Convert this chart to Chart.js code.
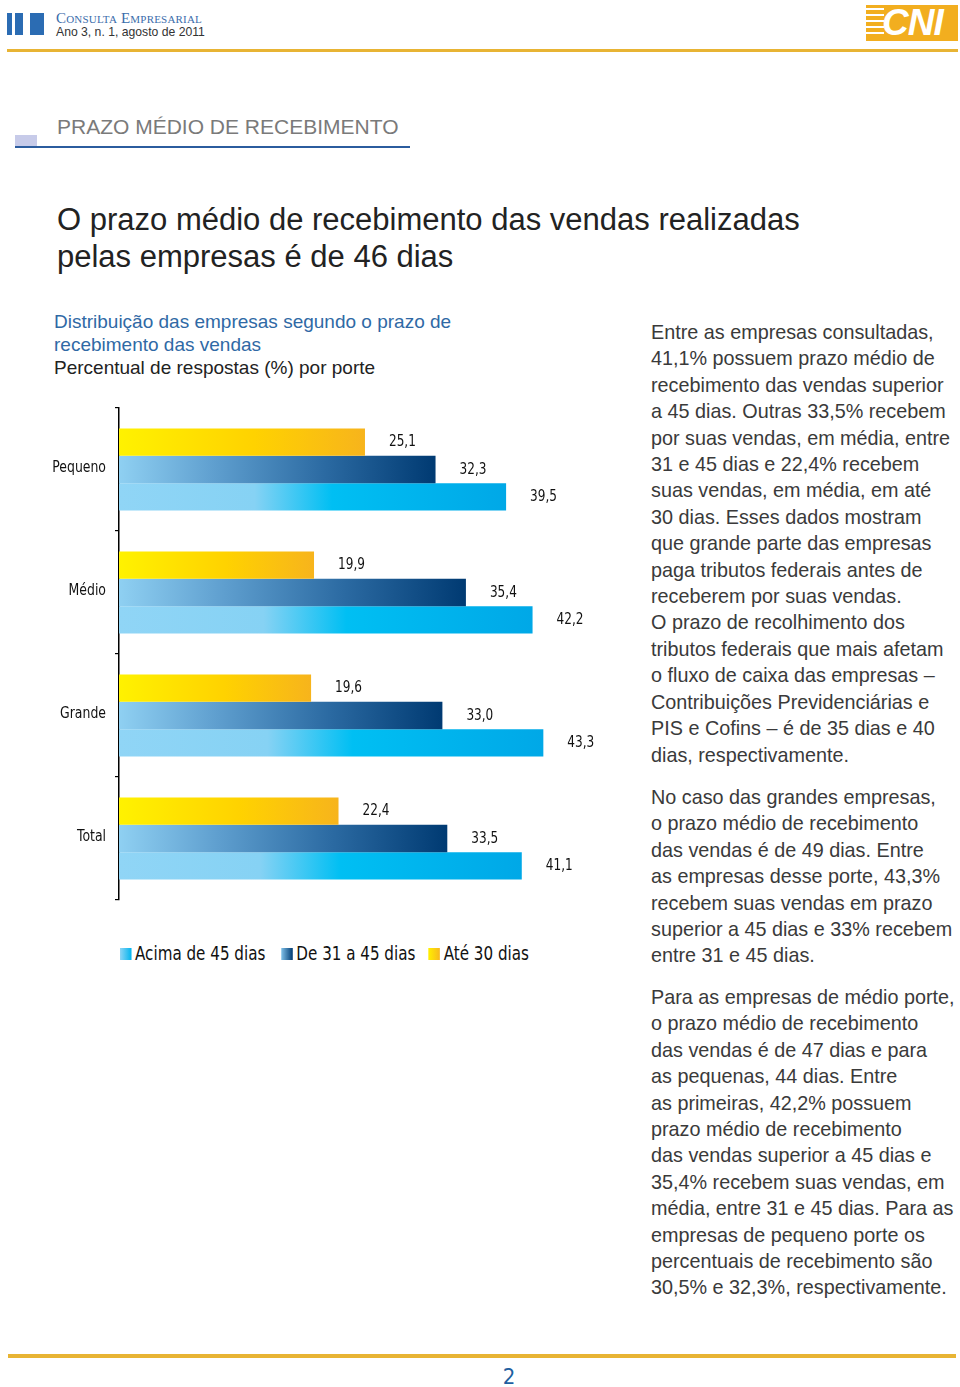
<!DOCTYPE html>
<html lang="pt">
<head>
<meta charset="utf-8">
<script src="https://cdn.jsdelivr.net/npm/chart.js@4"></script>
<style>
  html,body{margin:0;padding:0;background:#fff;}
  body{width:960px;height:1387px;position:relative;overflow:hidden;font-family:'Liberation Sans',Arial,sans-serif;}
  .abs{position:absolute;}
  .narrow{font-family:'Liberation Sans Narrow','DejaVu Sans Condensed','Arial Narrow',sans-serif;}
  .col{left:651px;width:310px;font-size:19.8px;line-height:26.4px;color:#3a3a3a;white-space:nowrap;}
  .sw{display:inline-block;width:13px;height:12px;vertical-align:0px;margin-right:4px;}
</style>
</head>
<body>
<!-- header -->
<div class="abs" style="left:7px;top:13px;width:5px;height:22px;background:#2b6cb3"></div>
<div class="abs" style="left:15px;top:13px;width:8px;height:22px;background:#2b6cb3"></div>
<div class="abs" style="left:30px;top:13px;width:14px;height:22px;background:#2b6cb3"></div>
<div class="abs" style="left:56px;top:10px;font-family:'Liberation Serif',serif;font-variant:small-caps;font-size:15px;line-height:17px;color:#3b6cab;letter-spacing:0.2px">Consulta Empresarial</div>
<div class="abs" style="left:56px;top:25px;font-size:12.2px;line-height:14px;color:#333">Ano 3, n. 1, agosto de 2011</div>
<div class="abs" style="left:7px;top:49px;width:951px;height:3px;background:#e8b434"></div>
<!-- CNI logo -->
<div class="abs" style="left:866px;top:5px;width:92px;height:36px;background:#f2ae1f;overflow:hidden">
  <div class="abs" style="left:0;top:3px;width:18px;height:30px;background:repeating-linear-gradient(to bottom,#fff 0 2px,transparent 2px 6px)"></div>
  <div class="abs" style="left:16px;top:-3px;font-family:'Liberation Sans',Arial,sans-serif;font-weight:bold;font-style:italic;font-size:37px;line-height:42px;color:#fff;letter-spacing:-1px">CNI</div>
</div>
<!-- section header -->
<div class="abs" style="left:57px;top:114px;font-size:21px;line-height:26px;color:#7a7a7a">PRAZO MÉDIO DE RECEBIMENTO</div>
<div class="abs" style="left:15px;top:135px;width:22px;height:11px;background:#c7cbe9"></div>
<div class="abs" style="left:15px;top:146px;width:395px;height:2px;background:#2b5c9e"></div>
<!-- title -->
<div class="abs" style="left:57px;top:201px;font-size:31px;line-height:37px;color:#222;white-space:nowrap">O prazo médio de recebimento das vendas realizadas<br>pelas empresas é de 46 dias</div>
<!-- chart title -->
<div class="abs" style="left:54px;top:310px;font-size:19px;line-height:23px;color:#2f69a5;white-space:nowrap">Distribuição das empresas segundo o prazo de<br>recebimento das vendas</div>
<div class="abs" style="left:54px;top:356px;font-size:19px;line-height:23px;color:#222;white-space:nowrap">Percentual de respostas (%) por porte</div>

<canvas id="c" class="abs" style="left:40px;top:400px" width="570" height="510"></canvas>

<!-- legend -->
<div class="abs narrow" style="left:120px;top:942px;font-size:19px;line-height:22px;color:#111;white-space:nowrap;transform:scaleX(0.886);transform-origin:0 0">
  <span class="sw" style="background:linear-gradient(to right,#8dd4f5,#00b4ee)"></span>Acima de 45 dias<span style="display:inline-block;width:18px"></span><span class="sw" style="background:linear-gradient(to right,#7fc0e8,#003b73)"></span>De 31 a 45 dias<span style="display:inline-block;width:15px"></span><span class="sw" style="background:linear-gradient(to right,#fff000,#f8b81e)"></span>Até 30 dias
</div>

<!-- right column -->
<div class="abs col" style="top:319px">Entre as empresas consultadas,<br>41,1% possuem prazo médio de<br>recebimento das vendas superior<br>a 45 dias. Outras 33,5% recebem<br>por suas vendas, em média, entre<br>31 e 45 dias e 22,4% recebem<br>suas vendas, em média, em até<br>30 dias. Esses dados mostram<br>que grande parte das empresas<br>paga tributos federais antes de<br>receberem por suas vendas.<br>O prazo de recolhimento dos<br>tributos federais que mais afetam<br>o fluxo de caixa das empresas –<br>Contribuições Previdenciárias e<br>PIS e Cofins – é de 35 dias e 40<br>dias, respectivamente.</div>
<div class="abs col" style="top:784px">No caso das grandes empresas,<br>o prazo médio de recebimento<br>das vendas é de 49 dias. Entre<br>as empresas desse porte, 43,3%<br>recebem suas vendas em prazo<br>superior a 45 dias e 33% recebem<br>entre 31 e 45 dias.</div>
<div class="abs col" style="top:984px">Para as empresas de médio porte,<br>o prazo médio de recebimento<br>das vendas é de 47 dias e para<br>as pequenas, 44 dias. Entre<br>as primeiras, 42,2% possuem<br>prazo médio de recebimento<br>das vendas superior a 45 dias e<br>35,4% recebem suas vendas, em<br>média, entre 31 e 45 dias. Para as<br>empresas de pequeno porte os<br>percentuais de recebimento são<br>30,5% e 32,3%, respectivamente.</div>

<!-- footer -->
<div class="abs" style="left:8px;top:1354px;width:948px;height:4px;background:#e8b434"></div>
<div class="abs narrow" style="left:500px;top:1365px;width:18px;text-align:center;font-size:22px;line-height:24px;color:#1f5fa0">2</div>

<script>
const categories = ['Pequeno', 'Médio', 'Grande', 'Total'];
const seriesNames = ['Até 30 dias', 'De 31 a 45 dias', 'Acima de 45 dias'];
const ate30 = [25.1, 19.9, 19.6, 22.4];
const de31a45 = [32.3, 35.4, 33.0, 33.5];
const acima45 = [39.5, 42.2, 43.3, 41.1];

const NARROW = "'Liberation Sans Narrow','DejaVu Sans Condensed','Arial Narrow',sans-serif";

const gradStops = [
  [[0, '#fff200'], [0.55, '#ffd200'], [1, '#f7b41c']],
  [[0, '#8fd0f2'], [0.3, '#5f9fcf'], [0.65, '#2b6aa2'], [1, '#003a72']],
  [[0, '#90d5f6'], [0.35, '#86d2f4'], [0.55, '#00bff3'], [1, '#00a8e7']]
];

function barGradient(ctx) {
  const chart = ctx.chart;
  if (!chart.chartArea || ctx.raw == null) return gradStops[ctx.datasetIndex][0][1];
  const xs = chart.scales.x;
  const x0 = xs.getPixelForValue(0);
  const x1 = xs.getPixelForValue(ctx.raw);
  const g = chart.ctx.createLinearGradient(x0, 0, x1, 0);
  gradStops[ctx.datasetIndex].forEach(s => g.addColorStop(s[0], s[1]));
  return g;
}

function narrowText(c, text, x, y, align) {
  c.save();
  c.translate(x, y);
  c.scale(0.84, 1);
  c.textAlign = align;
  c.fillText(text, 0, 0);
  c.restore();
}

const textLabels = {
  id: 'textLabels',
  afterDatasetsDraw(chart) {
    const c = chart.ctx;
    c.save();
    c.fillStyle = '#111';
    c.textBaseline = 'middle';
    // value labels
    c.font = '16px ' + NARROW;
    chart.data.datasets.forEach((ds, i) => {
      chart.getDatasetMeta(i).data.forEach((el, j) => {
        narrowText(c, ds.data[j].toFixed(1).replace('.', ','), el.x + 24, el.y, 'left');
      });
    });
    // category labels drawn at the category scale positions
    const ys = chart.scales.y;
    c.font = '16.5px ' + NARROW;
    chart.data.labels.forEach((lab, i) => {
      narrowText(c, lab, ys.right - 13, ys.getPixelForValue(i) - 2, 'right');
    });
    c.restore();
  }
};

new Chart(document.getElementById('c'), {
  type: 'bar',
  data: {
    labels: categories,
    datasets: [
      { label: seriesNames[0], data: ate30 },
      { label: seriesNames[1], data: de31a45 },
      { label: seriesNames[2], data: acima45 }
    ].map(d => Object.assign(d, {
      backgroundColor: barGradient,
      borderWidth: 0,
      barPercentage: 1,
      categoryPercentage: 0.667
    }))
  },
  options: {
    indexAxis: 'y',
    responsive: false,
    animation: false,
    devicePixelRatio: 1,
    layout: { padding: { top: 8, bottom: 10, left: 0, right: 1 } },
    scales: {
      x: { display: false, min: 0, max: 50 },
      y: {
        afterFit(scale) { scale.width = 79; },
        grid: { offset: true, drawOnChartArea: false, tickLength: 4, color: '#000', lineWidth: 1.2 },
        border: { display: true, color: '#000', width: 1.5 },
        ticks: { display: false }
      }
    },
    plugins: { legend: { display: false }, tooltip: { enabled: false } }
  },
  plugins: [textLabels]
});
</script>
</body>
</html>
